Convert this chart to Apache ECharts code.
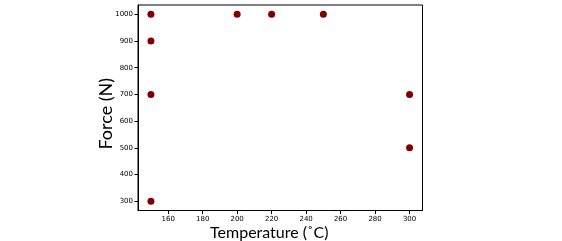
<!DOCTYPE html>
<html><head><meta charset="utf-8">
<script src="https://cdn.jsdelivr.net/npm/echarts@6/dist/echarts.min.js"></script>
<style>html,body{margin:0;padding:0;background:#fff}#c{width:562px;height:241px}</style>
</head><body><div id="c"></div>
<script>
const temperature = [150, 150, 150, 150, 200, 220, 250, 300, 300];
const force = [1000, 900, 700, 300, 1000, 1000, 1000, 700, 500];
const xTicks = [160, 180, 200, 220, 240, 260, 280, 300];
const yTicks = [300, 400, 500, 600, 700, 800, 900, 1000];
const xName = 'Temperature (˚C)';
const yName = 'Force (N)';

const chart = echarts.init(document.getElementById('c'));
const tickLabel = {fontFamily: 'DejaVu Sans', fontSize: 7, color: '#000', formatter: v => String(v)};
chart.setOption({
  animation: false,
  grid: {left: 138, right: 139.5, top: 5, bottom: 30.5, containLabel: false, outerBoundsMode: 'none',
         show: true, borderColor: '#000', borderWidth: 1, backgroundColor: '#fff'},
  xAxis: {
    type: 'value', min: 142.5, max: 307.5,
    name: xName, nameLocation: 'middle', nameGap: 14, nameMoveOverlap: false,
    nameTextStyle: {fontFamily: 'Lato', fontSize: 16, color: '#000', padding: [0, 22, 0, 0]},
    axisLine: {show: true, lineStyle: {color: '#000', width: 1}},
    axisTick: {show: true, length: 3.5, customValues: xTicks, lineStyle: {color: '#000'}},
    axisLabel: Object.assign({customValues: xTicks, margin: 5}, tickLabel),
    splitLine: {show: false}
  },
  yAxis: {
    type: 'value', min: 265, max: 1035,
    name: yName, nameLocation: 'middle', nameGap: 23, nameMoveOverlap: false,
    nameTextStyle: {fontFamily: 'Lato', fontSize: 18, color: '#000', padding: [0, 12, 0, 0]},
    axisLine: {show: true, lineStyle: {color: '#000', width: 1}},
    axisTick: {show: true, length: 3.5, customValues: yTicks, lineStyle: {color: '#000'}},
    axisLabel: Object.assign({customValues: yTicks, margin: 5}, tickLabel),
    splitLine: {show: false}
  },
  series: [{
    type: 'scatter',
    data: temperature.map((t, i) => [t, force[i]]),
    symbolSize: 7,
    itemStyle: {color: '#7f0000', opacity: 1}
  }]
});
</script></body></html>
